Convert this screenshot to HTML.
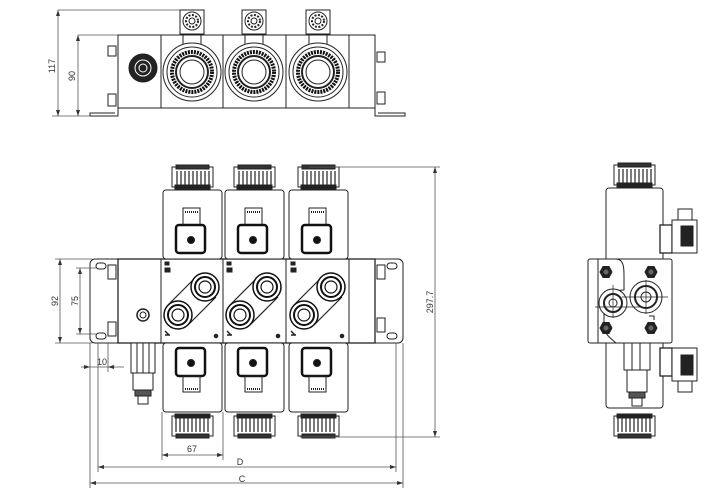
<!DOCTYPE html>
<html><head><meta charset="utf-8"><style>
html,body{margin:0;padding:0;background:#fff;width:727px;height:502px;overflow:hidden}
svg{display:block}
text{font-family:"Liberation Sans",sans-serif;font-size:9px;fill:#333}
</style></head><body>
<svg width="727" height="502" viewBox="0 0 727 502" xmlns="http://www.w3.org/2000/svg">
<defs>
<g id="nut">
 <rect x="0" y="2" width="41" height="20" fill="#fff" stroke="#222"/>
 <rect x="4" y="0" width="33" height="4" fill="#333"/>
 <path d="M5 6v14M9 6v14M13 6v14M17 6v14M21 6v14M25 6v14M29 6v14M33 6v14M37 6v14" stroke="#222" stroke-width="1.2"/>
 <rect x="3" y="20" width="35" height="4" fill="#222"/>
</g>
<g id="conn">
 <rect x="0" y="0" width="29" height="28" rx="3" fill="#fff" stroke="#111" stroke-width="2.5"/>
 <circle cx="15" cy="15" r="3.5" fill="#111"/>
</g>
<g id="port">
 <circle r="14" fill="#fff" stroke="#111" stroke-width="1.5"/>
 <circle r="10" fill="none" stroke="#111" stroke-width="2"/>
 <circle r="6" fill="none" stroke="#111" stroke-width="1.2"/>
</g>
<g id="hex"><polygon points="-6,0 -3,-5.5 3,-5.5 6,0 3,5.5 -3,5.5" fill="#222"/><circle r="3" fill="#666"/></g>
</defs>

<g fill="none" stroke="#222" stroke-width="1">
<!-- ===== TOP VIEW ===== -->
<path d="M58 10H182M78 35H118M52 116H92" stroke="#555" stroke-width="0.8"/>
<line x1="58" y1="10" x2="58" y2="116" stroke="#555" stroke-width="0.8"/>
<line x1="78" y1="35" x2="78" y2="116" stroke="#555" stroke-width="0.8"/>
<path d="M58 10l-2 6h4zM58 116l-2-6h4zM78 35l-2 6h4zM78 116l-2-6h4z" fill="#333" stroke="none"/>
<rect x="118" y="35" width="257" height="73" fill="#fff"/>
<path d="M161 35V108M223 35V108M286 35V108M349 35V108"/>
<path d="M90 116H118V108M90 116v-3h25M375 108v8H405v-3h-27"/>
<rect x="108" y="46" width="8" height="10"/><rect x="108" y="94" width="8" height="12"/>
<rect x="377" y="52" width="8" height="10"/><rect x="377" y="92" width="8" height="12"/>
<circle cx="143" cy="68" r="14" fill="#222"/><circle cx="143" cy="68" r="8" stroke="#fff"/><circle cx="143" cy="68" r="4" stroke="#fff"/>
<g id="tc">
 <rect x="180" y="10" width="24" height="24" fill="#fff"/>
 <circle cx="192" cy="21" r="9"/><circle cx="192" cy="21" r="6" stroke-dasharray="2 1.5" stroke-width="2"/><circle cx="192" cy="21" r="3"/>
 <path d="M183 34v10M201 34v10"/>
 <circle cx="192" cy="72" r="29" fill="#fff"/><circle cx="192" cy="72" r="25"/>
 <circle cx="192" cy="72" r="20" stroke="#111" stroke-width="4" stroke-dasharray="2 1"/>
 <circle cx="192" cy="72" r="16" stroke-width="2"/><circle cx="192" cy="72" r="12"/>
</g>
<use href="#tc" x="62"/><use href="#tc" x="126"/>

<!-- ===== FRONT VIEW ===== -->
<rect x="90" y="259" width="313" height="84" rx="5" fill="#fff"/>
<rect x="118" y="259" width="257" height="84" fill="#fff" stroke-width="1.3"/>
<path d="M161 259V343M223 259V343M286 259V343M349 259V343"/>
<rect x="96" y="263" width="10" height="6" rx="3"/><rect x="96" y="333" width="10" height="6" rx="3"/>
<rect x="387" y="263" width="10" height="6" rx="3"/><rect x="387" y="333" width="10" height="6" rx="3"/>
<rect x="108" y="265" width="8" height="14"/><rect x="108" y="322" width="8" height="14"/>
<rect x="377" y="265" width="8" height="14"/><rect x="377" y="318" width="8" height="14"/>
<circle cx="143" cy="315" r="6" stroke-width="1.5"/><circle cx="143" cy="315" r="3"/>
<!-- fitting left -->
<rect x="131" y="343" width="24" height="30" fill="#fff"/><path d="M137 343v30M143 343v30M149 343v30"/>
<rect x="133" y="373" width="20" height="17"/><rect x="135" y="390" width="16" height="6" fill="#555"/><rect x="138" y="396" width="10" height="8"/>

<g id="fc">
 <rect x="163" y="190" width="59" height="69" rx="3" fill="#fff"/>
 <use href="#nut" x="172" y="165"/>
 <rect x="183" y="208" width="17" height="17"/><path d="M185 212h13" stroke-width="2" stroke-dasharray="1 1"/>
 <use href="#conn" x="176" y="225"/>
 <rect x="163" y="343" width="59" height="69" rx="3" fill="#fff"/>
 <use href="#conn" x="176" y="348"/>
 <rect x="183" y="376" width="17" height="16"/><path d="M185 389h13" stroke-width="2" stroke-dasharray="1 1"/>
 <g transform="translate(213 438) scale(-1 -1)"><use href="#nut"/></g>
 <path d="M168 305l28-28M188 325l28-28" stroke-width="1.2"/>
 <use href="#port" x="205" y="287"/><use href="#port" x="178" y="315"/>
 <rect x="165" y="262" width="4" height="3" fill="#222"/><rect x="165" y="268" width="5" height="4" fill="#222"/>
 <circle cx="216" cy="336" r="1.8" fill="#222"/>
 <path d="M165 331l4 4M165 335h5" stroke-width="1.5"/>
</g>
<use href="#fc" x="62"/><use href="#fc" x="126"/>

<!-- front dims -->
<g stroke="#555" stroke-width="0.8">
<path d="M55 259H92M55 343H92M76 268H96M76 334H96"/>
<line x1="60" y1="259" x2="60" y2="343"/><line x1="80" y1="268" x2="80" y2="334"/>
<path d="M90 343V488M403 343V488M98 343V472M396 343V472M108 343V372M162 412V460M223 412V460"/>
<path d="M81 367H124"/>
<path d="M162 455H223M98 467H396M90 483H403"/>
<path d="M310 167H440M300 437H440"/><line x1="435" y1="167" x2="435" y2="437"/>
</g>
<path d="M60 259l-2 6h4zM60 343l-2-6h4zM80 268l-2 6h4zM80 334l-2-6h4zM90 367l-6-2v4zM108 367l6-2v4zM162 455l6-2v4zM223 455l-6-2v4zM98 467l6-2v4zM396 467l-6-2v4zM90 483l6-2v4zM403 483l-6-2v4zM435 167l-2 6h4zM435 437l-2-6h4z" fill="#333" stroke="none"/>

<!-- ===== SIDE VIEW ===== -->
<rect x="606" y="188" width="57" height="220" rx="3" fill="#fff"/>
<use href="#nut" x="614" y="163"/>
<g transform="translate(655 438) scale(-1 -1)"><use href="#nut"/></g>
<rect x="588" y="259" width="84" height="84" rx="2" fill="#fff"/>
<path d="M616 259c8 0 8 10 8 16v15c-10 0-20 5-20 15v20c0 10 8 14 12 18h-18V259z" />
<use href="#hex" x="606" y="272"/><use href="#hex" x="651" y="272"/>
<use href="#hex" x="606" y="328"/><use href="#hex" x="651" y="328"/>
<circle cx="646" cy="297" r="16" fill="#fff"/><circle cx="646" cy="297" r="11" stroke-width="2"/><circle cx="646" cy="297" r="5"/>
<circle cx="613" cy="303" r="14" fill="#fff"/><circle cx="613" cy="303" r="9" stroke-width="2"/><circle cx="613" cy="303" r="4"/>
<path d="M595 307H640M622 297H668M613 285V318M646 280V314" stroke-width="0.7"/>
<path d="M649 316h5v4"/>
<rect x="660" y="225" width="12" height="28" fill="#fff" stroke-width="1.3"/>
<rect x="672" y="220" width="25" height="33" fill="#fff"/><rect x="678" y="209" width="14" height="11"/>
<rect x="681" y="226" width="12" height="20" fill="#222"/>
<rect x="660" y="348" width="12" height="28" fill="#fff" stroke-width="1.3"/>
<rect x="672" y="348" width="25" height="33" fill="#fff"/><rect x="678" y="381" width="14" height="11"/>
<rect x="681" y="355" width="12" height="20" fill="#222"/>
<rect x="624" y="343" width="26" height="27" fill="#fff"/><path d="M632 343v27M640 343v27"/>
<rect x="627" y="370" width="20" height="22"/><rect x="629" y="392" width="16" height="6" fill="#555"/><rect x="632" y="398" width="10" height="8"/>
</g>

<g>
<text transform="translate(55 66) rotate(-90)" text-anchor="middle">117</text>
<text transform="translate(75 76) rotate(-90)" text-anchor="middle">90</text>
<text transform="translate(58 301) rotate(-90)" text-anchor="middle">92</text>
<text transform="translate(78 301) rotate(-90)" text-anchor="middle">75</text>
<text transform="translate(433 302) rotate(-90)" text-anchor="middle">297.7</text>
<text x="102" y="365" text-anchor="middle">10</text>
<text x="192" y="452" text-anchor="middle">67</text>
<text x="240" y="465" text-anchor="middle">D</text>
<text x="242" y="482" text-anchor="middle">C</text>
</g>
</svg>
</body></html>
